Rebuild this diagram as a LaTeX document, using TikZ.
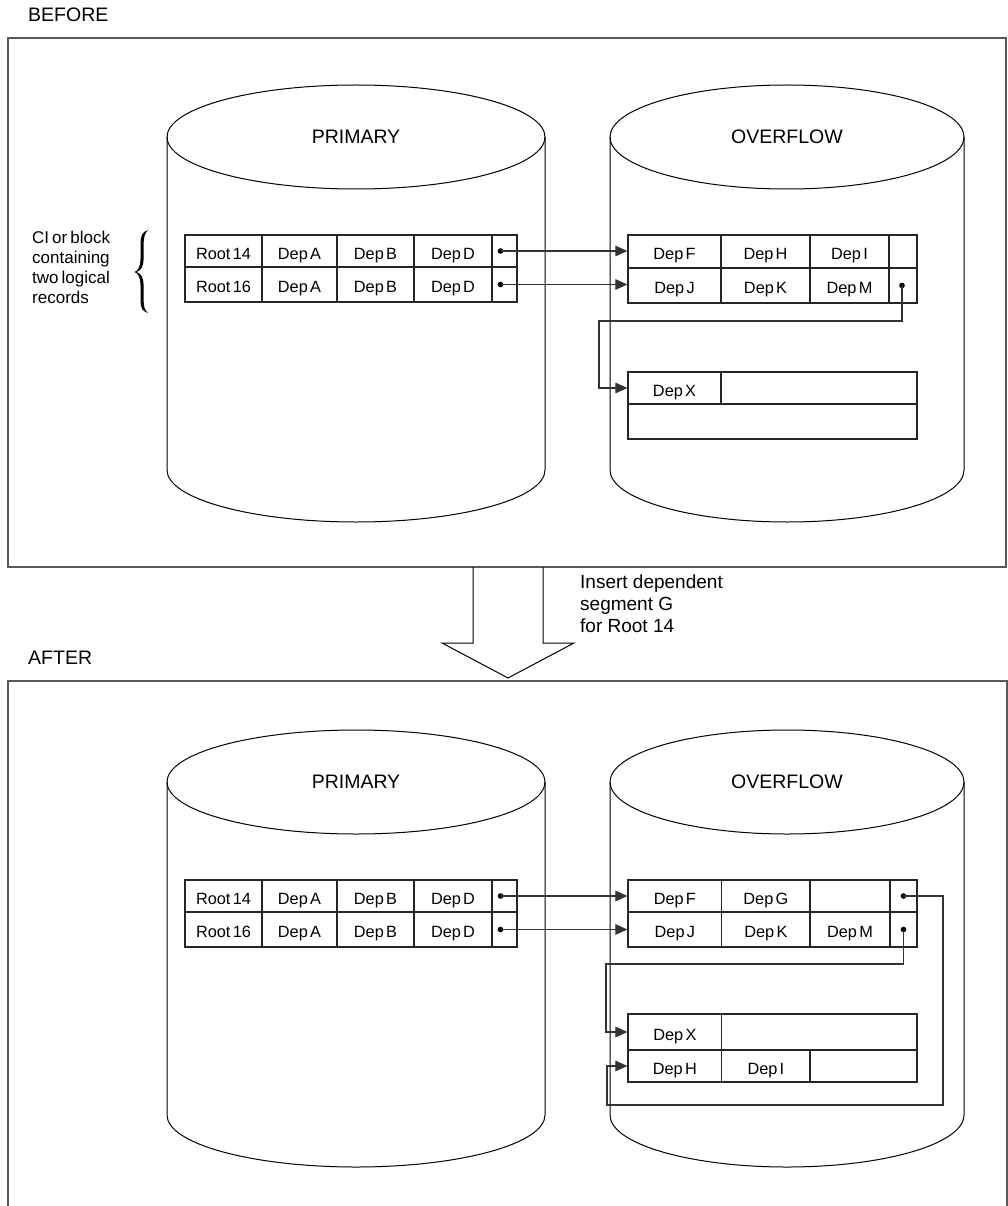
\documentclass[tikz,border=0pt]{standalone}
\usepackage{fontspec}
\setmainfont{Liberation Sans}
\usetikzlibrary{arrows.meta,calc}

% fonts
\newcommand\cellfont{\fontsize{16.3}{18}\selectfont\spaceskip=0.14em\relax}
\newcommand\titlefont{\fontsize{19.5}{22}\selectfont}
\newcommand\notefont{\fontsize{19}{22}\selectfont}
\newcommand\asidefont{\fontsize{17}{20}\selectfont\spaceskip=0.18em\relax}

\tikzset{
  frame/.style={draw=black!65, line width=1.4pt},
  drumline/.style={draw=black, line width=1pt},
  cell/.style={draw=black!85, line width=1.2pt, inner sep=0pt,
    text height=20pt, text depth=4pt, font=\cellfont},
  ptr/.style={draw=black!80, line width=1.1pt, -{Triangle[length=12pt,width=10.5pt]}},
  dot/.style={circle, fill=black, inner sep=0pt, minimum size=5.6pt},
  title/.style={font=\titlefont, inner sep=0pt},
}

% \cellbox{name}{x1}{y1}{x2}{y2}{text}
\newcommand\cellbox[6]{%
  \node[cell, minimum width={(#4-#2)*1pt}, minimum height={(#5-#3)*1pt}]
    (#1) at ({(#2+#4)/2},{(#3+#5)/2}) {#6};}

% \drawdrum{cx}{rx}{ytop}{ybottom}{ry}
\newcommand\drawdrum[5]{%
  \draw[drumline] (#1,#3) ellipse [x radius=#2pt, y radius=#5pt];
  \draw[drumline] ({#1-#2},#3) -- ({#1-#2},#4)
    arc[start angle=180, end angle=360, x radius=#2pt, y radius=#5pt]
    -- ({#1+#2},#3);}

\begin{document}
\begin{tikzpicture}[x=1pt,y=-1pt]
\useasboundingbox (0,0) rectangle (1008,1206);

% ---------- frames and headings ----------
\draw[frame] (8,38) rectangle (1006,567);
\draw[frame] (8,1206) -- (8,681) -- (1007,681) -- (1007,1206);
\node[title, anchor=west] (before) at (28,14.5) {BEFORE};
\node[title, anchor=west] (after) at (28,657.5) {AFTER};

% ---------- data sets ----------
\drawdrum{356}{189}{137}{470}{52}
\drawdrum{787}{177}{137}{470}{52}
\drawdrum{356}{189}{782}{1115}{52}
\drawdrum{787}{177}{782}{1115}{52}
\node[title] (bprim) at (356,137) {PRIMARY};
\node[title] (bover) at (787,137) {OVERFLOW};
\node[title] (aprim) at (356,782) {PRIMARY};
\node[title] (aover) at (787,782) {OVERFLOW};

% ---------- before: primary CI ----------
\cellbox{bp1r}{185}{235}{262}{267}{Root 14}
\cellbox{bp1a}{262}{235}{337}{267}{Dep A}
\cellbox{bp1b}{337}{235}{414}{267}{Dep B}
\cellbox{bp1d}{414}{235}{492}{267}{Dep D}
\cellbox{bp1p}{492}{235}{517}{267}{}
\cellbox{bp2r}{185}{267}{262}{302}{Root 16}
\cellbox{bp2a}{262}{267}{337}{302}{Dep A}
\cellbox{bp2b}{337}{267}{414}{302}{Dep B}
\cellbox{bp2d}{414}{267}{492}{302}{Dep D}
\cellbox{bp2p}{492}{267}{517}{302}{}

% ---------- before: overflow CIs ----------
\cellbox{bo1f}{628}{235}{721}{268}{Dep F}
\cellbox{bo1h}{721}{235}{810}{268}{Dep H}
\cellbox{bo1i}{810}{235}{889}{268}{Dep I}
\cellbox{bo1p}{889}{235}{917}{268}{}
\cellbox{bo2j}{628}{268}{721}{303}{Dep J}
\cellbox{bo2k}{721}{268}{810}{303}{Dep K}
\cellbox{bo2m}{810}{268}{889}{303}{Dep M}
\cellbox{bo2p}{889}{268}{917}{303}{}
\cellbox{bx1x}{628}{372}{721}{404}{Dep X}
\cellbox{bx1e}{721}{372}{917}{404}{}
\cellbox{bx2e}{628}{404}{917}{439}{}

% pointers
\node[dot] (bpd1) at ([xshift=-4pt]bp1p.center) {};
\node[dot] (bpd2) at ([xshift=-4pt]bp2p.center) {};
\node[dot] (bod2) at ([xshift=-1pt]bo2p.center) {};
\draw[ptr] (bpd1.center) -- (bpd1 -| bo1f.west);
\draw[ptr] (bpd2.center) -- (bpd2 -| bo2j.west);
\coordinate (bturn) at (599,321);
\draw[ptr] (bod2.center) |- (bturn) |- (bx1x.west);

% ---------- after: primary CI ----------
\cellbox{ap1r}{185}{880}{262}{912}{Root 14}
\cellbox{ap1a}{262}{880}{337}{912}{Dep A}
\cellbox{ap1b}{337}{880}{414}{912}{Dep B}
\cellbox{ap1d}{414}{880}{492}{912}{Dep D}
\cellbox{ap1p}{492}{880}{517}{912}{}
\cellbox{ap2r}{185}{912}{262}{947}{Root 16}
\cellbox{ap2a}{262}{912}{337}{947}{Dep A}
\cellbox{ap2b}{337}{912}{414}{947}{Dep B}
\cellbox{ap2d}{414}{912}{492}{947}{Dep D}
\cellbox{ap2p}{492}{912}{517}{947}{}

% ---------- after: overflow CIs ----------
\cellbox{ao1f}{628}{880}{721.7}{912}{Dep F}
\cellbox{ao1g}{721.7}{880}{810}{912}{Dep G}
\cellbox{ao1e}{810}{880}{890}{912}{}
\cellbox{ao1p}{890}{880}{917}{912}{}
\cellbox{ao2j}{628}{912}{721.7}{947}{Dep J}
\cellbox{ao2k}{721.7}{912}{810}{947}{Dep K}
\cellbox{ao2m}{810}{912}{890}{947}{Dep M}
\cellbox{ao2p}{890}{912}{917}{947}{}
\cellbox{ax1x}{628}{1014}{721.7}{1050}{Dep X}
\cellbox{ax1e}{721.7}{1014}{917}{1050}{}
\cellbox{ax2h}{628}{1050}{721.7}{1082}{Dep H}
\cellbox{ax2i}{721.7}{1050}{810}{1082}{Dep I}
\cellbox{ax2e}{810}{1050}{917}{1082}{}

% pointers
\node[dot] (apd1) at ([xshift=-4pt]ap1p.center) {};
\node[dot] (apd2) at ([xshift=-4pt]ap2p.center) {};
\node[dot] (aod1) at (ao1p.center) {};
\node[dot] (aod2) at (ao2p.center) {};
\draw[ptr] (apd1.center) -- (apd1 -| ao1f.west);
\draw[ptr] (apd2.center) -- (apd2 -| ao2j.west);
\coordinate (aturnx) at (606,964);
\draw[ptr] (aod2.center) |- (aturnx) |- (ax1x.west);
\coordinate (aturnr) at (943,1105);
\coordinate (aturnl) at (607,1105);
\draw[ptr] (aod1.center) -| (aturnr) -- (aturnl) |- (ax2h.west);

% ---------- annotations ----------
\node[anchor=north west, align=left, inner sep=0pt, font=\asidefont] (cinote)
  at (32,231) {CI or block\\containing\\two logical\\records};
% curly brace, drawn as a filled outline
\fill[black] (148,230)
  .. controls (142,232) and (140.5,236) .. (140.5,244) -- (140.5,259)
  .. controls (140.5,266) and (138.5,270.5) .. (134.5,272)
  .. controls (138.5,273.5) and (140.5,278) .. (140.5,285) -- (140.5,300)
  .. controls (140.5,308) and (142,311) .. (148,313)
  .. controls (144.5,310.5) and (143.6,306) .. (143.6,299) -- (143.6,285)
  .. controls (143.6,278) and (141,273.5) .. (136.5,272)
  .. controls (141,270.5) and (143.6,266) .. (143.6,259) -- (143.6,245)
  .. controls (143.6,238) and (144.5,233.5) .. (148,230) -- cycle;

% transition arrow
\draw[drumline] (473,567) -- (473,643) -- (442,643) -- (508,678)
  -- (574,643) -- (543,643) -- (543,567);
\node[anchor=north west, align=left, inner sep=0pt, font=\notefont] (insnote)
  at (580,575) {Insert dependent\\segment G\\for Root 14};

\end{tikzpicture}
\end{document}
